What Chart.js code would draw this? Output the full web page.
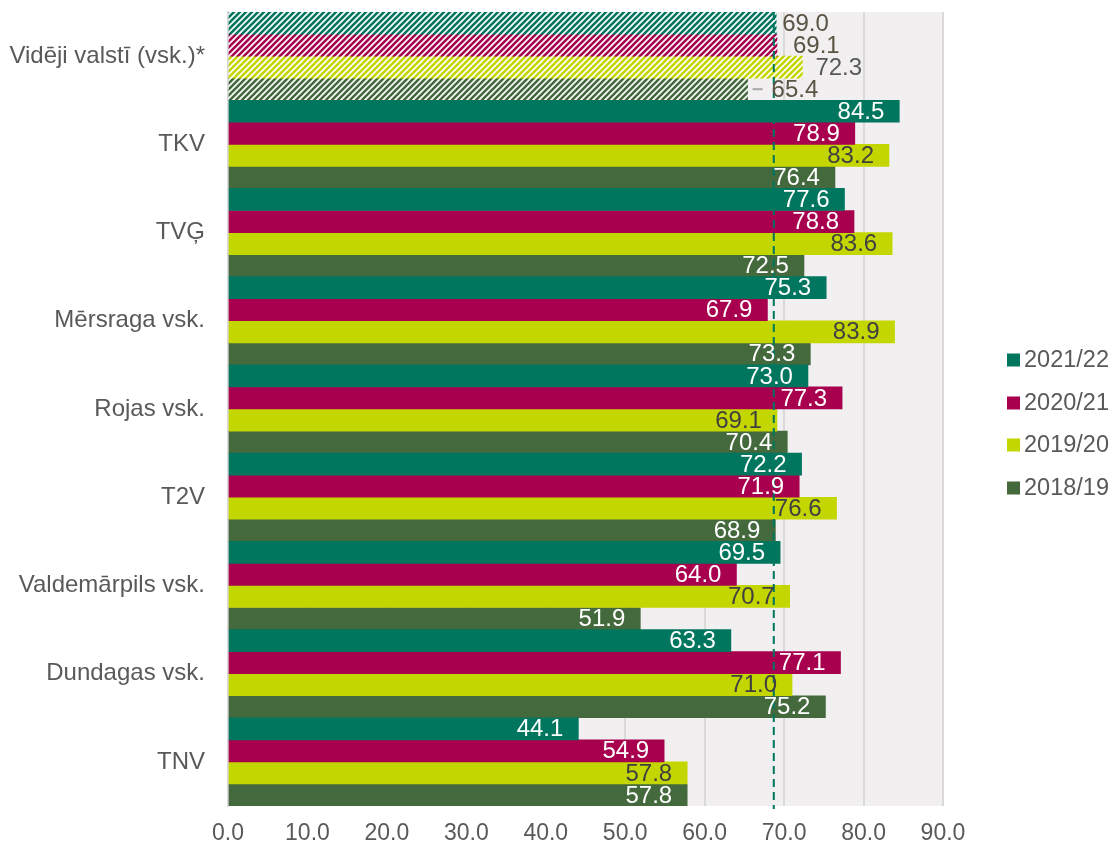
<!DOCTYPE html>
<html>
<head>
<meta charset="utf-8">
<script src="https://cdn.jsdelivr.net/npm/chart.js@4/dist/chart.umd.min.js"></script>
<style>
html,body{margin:0;padding:0;background:#fff;}
#wrap{width:1115px;height:848px;}
</style>
</head>
<body>
<div id="wrap"><canvas id="c" width="1115" height="848"></canvas></div>
<script>
const categories = ["Vidēji valstī (vsk.)*", "TKV", "TVĢ", "Mērsraga vsk.", "Rojas vsk.", "T2V", "Valdemārpils vsk.", "Dundagas vsk.", "TNV"];
const seriesNames = ["2021/22", "2020/21", "2019/20", "2018/19"];
const values2122 = [69.0, 84.5, 77.6, 75.3, 73.0, 72.2, 69.5, 63.3, 44.1];
const values2021 = [69.1, 78.9, 78.8, 67.9, 77.3, 71.9, 64.0, 77.1, 54.9];
const values1920 = [72.3, 83.2, 83.6, 83.9, 69.1, 76.6, 70.7, 71.0, 57.8];
const values1819 = [65.4, 76.4, 72.5, 73.3, 70.4, 68.9, 51.9, 75.2, 57.8];
const xTicks = [0, 10, 20, 30, 40, 50, 60, 70, 80, 90];
const referenceLine = 68.7;

const colors = ["#00765F", "#A8004F", "#C4D600", "#44693D"];
const FONT = "'Liberation Sans', Arial, sans-serif";
const TEXT = "#595959";

function hatch(color) {
  const s = 6;
  const cv = document.createElement('canvas');
  cv.width = s; cv.height = s;
  const x = cv.getContext('2d');
  x.fillStyle = '#ffffff';
  x.fillRect(0, 0, s, s);
  x.strokeStyle = color;
  x.lineWidth = 2.6;
  x.beginPath();
  x.moveTo(-1, s + 1); x.lineTo(s + 1, -1);
  x.moveTo(-1, 1); x.lineTo(1, -1);
  x.moveTo(s - 1, s + 1); x.lineTo(s + 1, s - 1);
  x.stroke();
  return x.createPattern(cv, 'repeat');
}

const allValues = [values2122, values2021, values1920, values1819];
const datasets = allValues.map((vals, i) => ({
  label: seriesNames[i],
  data: vals,
  backgroundColor: vals.map((v, j) => j === 0 ? hatch(colors[i]) : colors[i]),
  borderWidth: 0,
  barPercentage: 1.0,
  categoryPercentage: 1.0
}));

const bgPlugin = {
  id: 'bg',
  beforeDraw(chart) {
    const a = chart.chartArea, ctx = chart.ctx;
    ctx.save();
    ctx.fillStyle = '#f1eff0';
    ctx.fillRect(a.left, a.top, a.right - a.left, a.bottom - a.top);
    ctx.restore();
  }
};

const overlayPlugin = {
  id: 'overlay',
  afterDatasetsDraw(chart) {
    const ctx = chart.ctx, a = chart.chartArea;
    const xs = chart.scales.x;
    const rx = xs.getPixelForValue(referenceLine);
    ctx.save();
    ctx.strokeStyle = '#00765F';
    ctx.lineWidth = 2;
    ctx.setLineDash([8, 5]);
    ctx.beginPath();
    ctx.moveTo(rx, a.top);
    ctx.lineTo(rx, a.bottom + 3);
    ctx.stroke();
    ctx.restore();

    const firstOffsets = [6, 16, 13, 24];
    ctx.save();
    ctx.font = '24px ' + FONT;
    ctx.textBaseline = 'middle';
    chart.data.datasets.forEach((ds, di) => {
      const meta = chart.getDatasetMeta(di);
      meta.data.forEach((bar, j) => {
        const txt = ds.data[j].toFixed(1);
        if (j === 0) {
          ctx.textAlign = 'left';
          ctx.fillStyle = di === 2 ? '#595959' : '#5a5444';
          ctx.fillText(txt, bar.x + firstOffsets[di], bar.y + 1);
          if (di === 3) {
            ctx.strokeStyle = '#a6a6a6';
            ctx.lineWidth = 2;
            ctx.beginPath();
            ctx.moveTo(bar.x + 5, bar.y);
            ctx.lineTo(bar.x + 15, bar.y);
            ctx.stroke();
          }
        } else {
          ctx.textAlign = 'right';
          ctx.fillStyle = di === 2 ? '#404040' : '#ffffff';
          ctx.fillText(txt, bar.x - 15, bar.y + 1);
        }
      });
    });
    ctx.restore();

    ctx.save();
    ctx.font = '23.5px ' + FONT;
    ctx.textBaseline = 'middle';
    ctx.textAlign = 'left';
    const ys = [360, 403, 445, 488];
    seriesNames.forEach((n, i) => {
      ctx.fillStyle = colors[i];
      ctx.fillRect(1007, ys[i] - 6.5, 13, 13);
      ctx.fillStyle = TEXT;
      ctx.fillText(n, 1024, ys[i] + 1);
    });
    ctx.restore();
  }
};

new Chart(document.getElementById('c'), {
  type: 'bar',
  data: { labels: categories, datasets },
  options: {
    indexAxis: 'y',
    responsive: false,
    animation: false,
    devicePixelRatio: 1,
    layout: { padding: { top: 12, right: 172, bottom: 0, left: 0 } },
    plugins: { legend: { display: false }, tooltip: { enabled: false } },
    scales: {
      x: {
        min: 0, max: 90,
        afterBuildTicks(s) { s.ticks = xTicks.map(v => ({ value: v })); },
        afterFit(s) { s.height = 42; s.paddingLeft = 0; s.paddingRight = 0; },
        ticks: {
          callback: v => Number(v).toFixed(1),
          font: { size: 23, family: FONT },
          color: TEXT,
          padding: 14,
          maxRotation: 0
        },
        grid: { color: '#d9d9d9', lineWidth: 2, drawTicks: false },
        border: { display: false }
      },
      y: {
        afterFit(s) { s.width = 228; s.paddingTop = 0; s.paddingBottom = 0; },
        ticks: {
          font: { size: 24, family: FONT },
          color: TEXT,
          padding: 15
        },
        grid: { display: false },
        border: { display: true, color: '#d9d9d9', width: 2 }
      }
    }
  },
  plugins: [bgPlugin, overlayPlugin]
});
</script>
</body>
</html>
